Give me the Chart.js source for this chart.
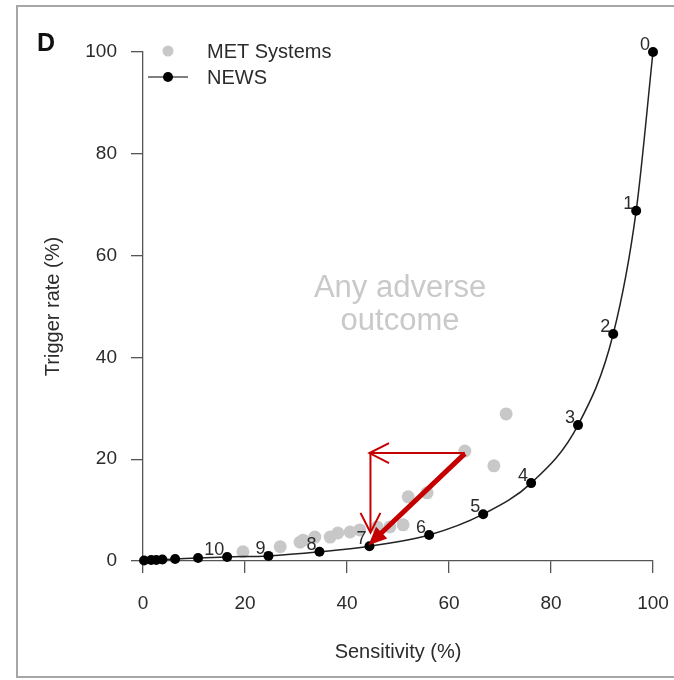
<!DOCTYPE html>
<html>
<head>
<meta charset="utf-8">
<script src="https://cdn.jsdelivr.net/npm/chart.js@4.4.1/dist/chart.umd.min.js"></script>
<style>
  html, body { margin: 0; padding: 0; background: #fff; }
  #c { display: block; }
</style>
</head>
<body>
<canvas id="c" width="674" height="680"></canvas>
<script>
/* Panel D: sensitivity vs trigger rate, NEWS thresholds vs MET systems */
const FONT = '"Liberation Sans", Arial, Helvetica, sans-serif';
const C = { ink:'#2b2b2b', axis:'#555555', met:'#c8c8c8', news:'#000000',
            red:'#c40000', note:'#c9c9c9', frame:'#a6a6a6' };

// NEWS curve, sorted by sensitivity (threshold 0 sits at 100/100)
const newsSens    = [0.2, 1.6, 2.6, 3.8, 6.3, 10.8, 16.5, 24.6, 34.6, 44.4, 56.1, 66.7, 76.1, 85.3, 92.2, 96.7, 100];
const newsTrigger = [0.1, 0.2, 0.2, 0.3, 0.4, 0.6, 0.8, 1.0, 1.8, 2.9, 5.1, 9.2, 15.3, 26.7, 44.6, 68.8, 100];
const newsLabels  = ['', '', '', '', '', '', '10', '9', '8', '7', '6', '5', '4', '3', '2', '1', '0'];

// MET system points
const metSens    = [19.6, 26.9, 30.8, 31.4, 33.7, 36.7, 38.2, 40.6, 42.5, 45.9, 48.4, 51.0, 52.0, 55.7, 63.1, 68.8, 71.2];
const metTrigger = [1.8, 2.8, 3.7, 4.1, 4.7, 4.7, 5.5, 5.7, 6.1, 6.7, 6.7, 7.1, 12.6, 13.4, 21.6, 18.7, 28.9];

const xTicks = [0, 20, 40, 60, 80, 100];
const yTicks = [0, 20, 40, 60, 80, 100];

// red arrows, in data units: [x0, y0, x1, y1, style]
const arrows = [
  [63.1, 21.2, 44.4, 21.2, 'open'],
  [44.6, 21.2, 44.6, 5.6, 'open'],
  [63.1, 21.1, 44.2, 3.1, 'bold']
];
const noteLines = ['Any adverse', 'outcome'];

function arrow(ctx, x0, y0, x1, y1, style) {
  const a = Math.atan2(y1 - y0, x1 - x0);
  ctx.save();
  ctx.strokeStyle = C.red; ctx.fillStyle = C.red;
  if (style === 'bold') {
    const hl = 20, hw = 0.42;
    ctx.lineWidth = 5; ctx.lineCap = 'butt';
    ctx.beginPath(); ctx.moveTo(x0, y0);
    ctx.lineTo(x1 - (hl - 4) * Math.cos(a), y1 - (hl - 4) * Math.sin(a)); ctx.stroke();
    ctx.beginPath(); ctx.moveTo(x1, y1);
    ctx.lineTo(x1 - hl * Math.cos(a - hw), y1 - hl * Math.sin(a - hw));
    ctx.lineTo(x1 - hl * Math.cos(a + hw), y1 - hl * Math.sin(a + hw));
    ctx.closePath(); ctx.fill();
  } else {
    const hl = 22, hw = 0.47;
    ctx.lineWidth = 2;
    ctx.beginPath(); ctx.moveTo(x0, y0); ctx.lineTo(x1, y1); ctx.stroke();
    ctx.beginPath();
    ctx.moveTo(x1 - hl * Math.cos(a - hw), y1 - hl * Math.sin(a - hw));
    ctx.lineTo(x1, y1);
    ctx.lineTo(x1 - hl * Math.cos(a + hw), y1 - hl * Math.sin(a + hw));
    ctx.stroke();
  }
  ctx.restore();
}

const decor = {
  id: 'decor',
  beforeDraw(chart) {
    const ctx = chart.ctx;
    ctx.save();
    ctx.fillStyle = '#fff'; ctx.fillRect(0, 0, chart.width, chart.height);
    ctx.strokeStyle = C.frame; ctx.lineWidth = 2;
    ctx.strokeRect(17, 6, 700, 671);
    ctx.fillStyle = '#111'; ctx.font = 'bold 25px ' + FONT;
    ctx.textBaseline = 'alphabetic'; ctx.textAlign = 'left';
    ctx.fillText('D', 37, 51);
    ctx.restore();
  },
  afterDatasetsDraw(chart) {
    const ctx = chart.ctx, xs = chart.scales.x, ys = chart.scales.y;
    ctx.save();
    // threshold labels
    ctx.fillStyle = C.ink; ctx.font = '18px ' + FONT;
    ctx.textAlign = 'right'; ctx.textBaseline = 'alphabetic';
    newsLabels.forEach((t, i) => {
      if (!t) return;
      ctx.fillText(t, xs.getPixelForValue(newsSens[i]) - 3, ys.getPixelForValue(newsTrigger[i]) - 2);
    });
    // annotation
    ctx.fillStyle = C.note; ctx.font = '31px ' + FONT; ctx.textAlign = 'center';
    ctx.fillText(noteLines[0], xs.getPixelForValue(50.4), ys.getPixelForValue(51.9));
    ctx.fillText(noteLines[1], xs.getPixelForValue(50.4), ys.getPixelForValue(45.3));
    // arrows
    arrows.forEach(([a, b, c, d, s]) => arrow(ctx,
      xs.getPixelForValue(a), ys.getPixelForValue(b),
      xs.getPixelForValue(c), ys.getPixelForValue(d), s));
    // legend
    ctx.fillStyle = C.met;
    ctx.beginPath(); ctx.arc(168, 51, 5.5, 0, Math.PI * 2); ctx.fill();
    ctx.strokeStyle = '#000'; ctx.lineWidth = 1.2;
    ctx.beginPath(); ctx.moveTo(148, 77); ctx.lineTo(188, 77); ctx.stroke();
    ctx.fillStyle = '#000';
    ctx.beginPath(); ctx.arc(168, 77, 5, 0, Math.PI * 2); ctx.fill();
    ctx.fillStyle = C.ink; ctx.font = '20px ' + FONT; ctx.textAlign = 'left';
    ctx.fillText('MET Systems', 207, 58);
    ctx.fillText('NEWS', 207, 84);
    ctx.restore();
  }
};

const axisCommon = {
  type: 'linear', min: 0, max: 100,
  grid: { drawOnChartArea: false, drawTicks: true, tickLength: 12, color: C.axis, lineWidth: 1.3 },
  border: { display: true, color: C.axis, width: 1.3 },
  ticks: { stepSize: 20, color: C.ink, font: { family: FONT, size: 19 }, padding: 19 },
  afterBuildTicks: s => { s.ticks = (s.axis === 'x' ? xTicks : yTicks).map(v => ({ value: v })); }
};

new Chart(document.getElementById('c'), {
  type: 'scatter',
  data: {
    datasets: [
      { label: 'NEWS', data: newsSens.map((x, i) => ({ x, y: newsTrigger[i] })),
        showLine: true, borderColor: '#222', borderWidth: 1.5, cubicInterpolationMode: 'monotone',
        pointRadius: 5, pointBackgroundColor: C.news, pointBorderWidth: 0, clip: false },
      { label: 'MET Systems', data: metSens.map((x, i) => ({ x, y: metTrigger[i] })),
        pointRadius: 6.5, pointBackgroundColor: C.met, pointBorderWidth: 0, clip: false }
    ]
  },
  options: {
    responsive: false, animation: false, devicePixelRatio: 1,
    layout: { padding: { left: 0, top: 52, right: 21, bottom: 0 } },
    plugins: { legend: { display: false }, tooltip: { enabled: false } },
    scales: {
      x: Object.assign({}, axisCommon, {
        afterFit: s => { s.height = 119; s.paddingLeft = 0; s.paddingRight = 0; },
        title: { display: true, text: 'Sensitivity (%)', color: C.ink,
                 font: { family: FONT, size: 20 }, padding: { top: 0, bottom: 16 } } }),
      y: Object.assign({}, axisCommon, {
        ticks: Object.assign({}, axisCommon.ticks, { padding: 14 }),
        afterFit: s => { s.width = 143; s.paddingTop = 0; s.paddingBottom = 0; },
        title: { display: true, text: 'Trigger rate (%)', color: C.ink,
                 font: { family: FONT, size: 20 }, padding: { top: 41, bottom: 0 } } })
    }
  },
  plugins: [decor]
});
</script>
</body>
</html>
